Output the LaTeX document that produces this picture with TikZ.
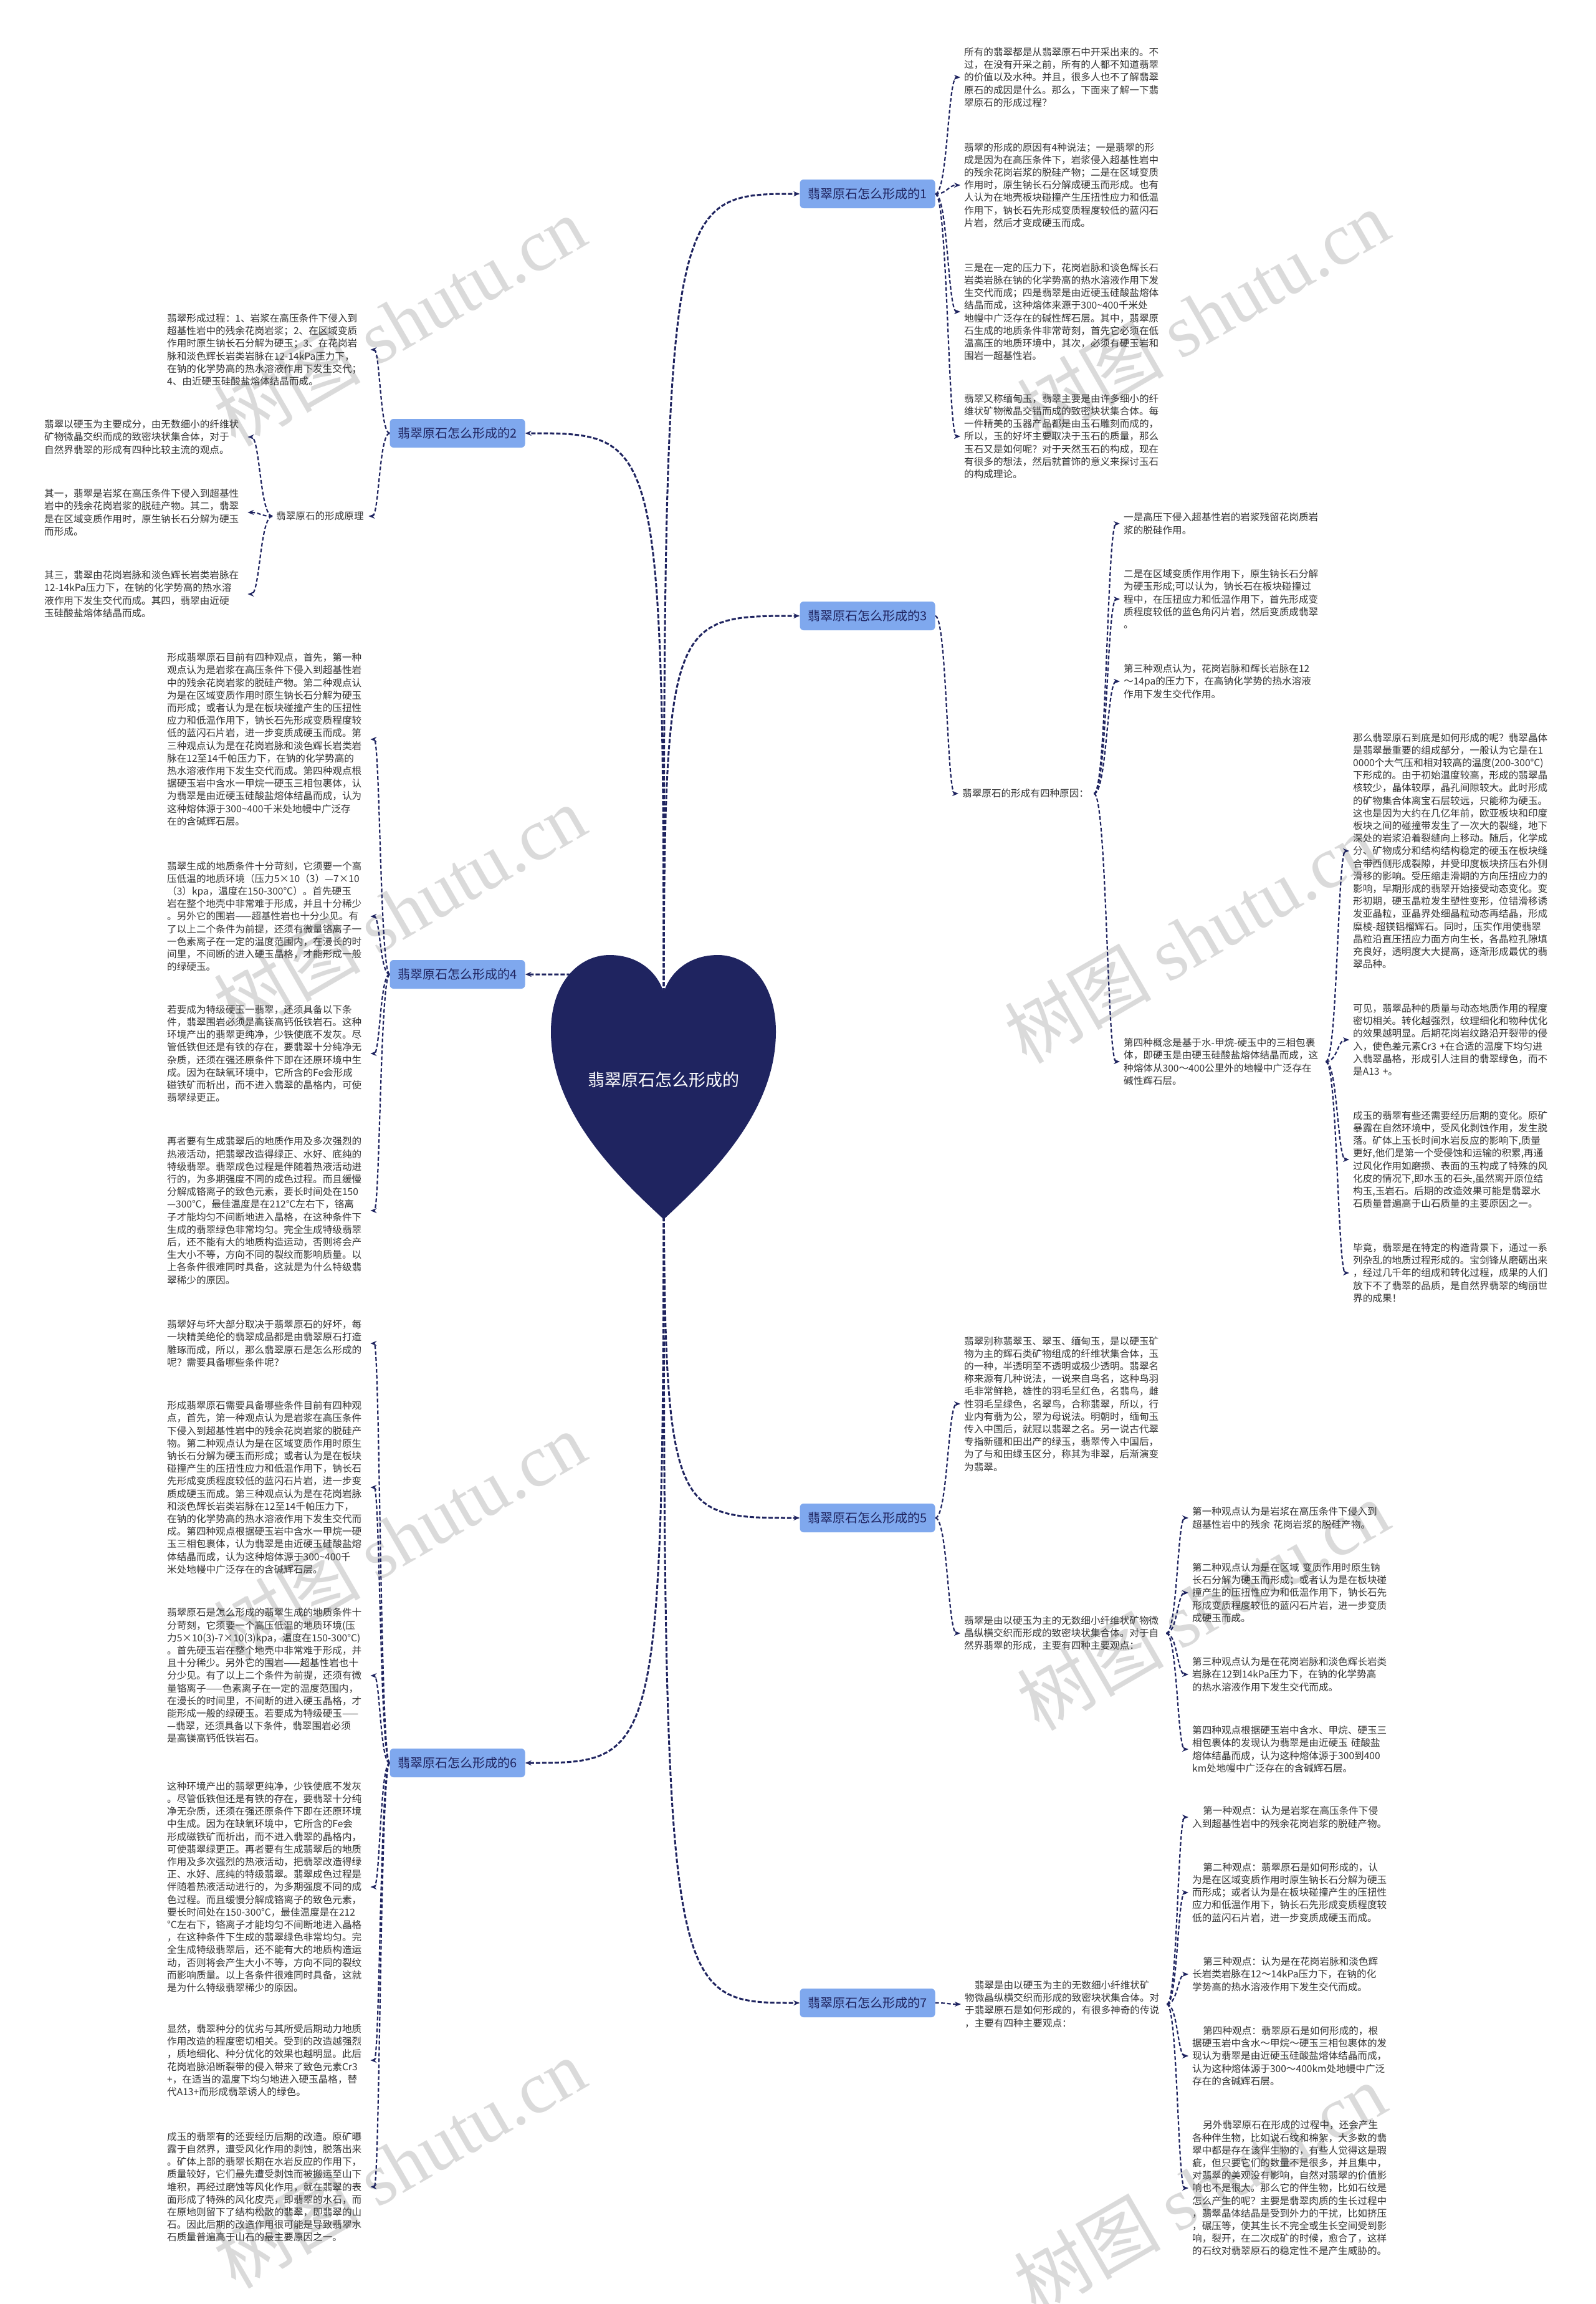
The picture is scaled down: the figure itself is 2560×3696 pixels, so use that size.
\documentclass[tikz,border=0pt]{standalone}
\usepackage{fontspec}
\setmainfont{Noto Sans CJK SC}
\newfontfamily\wmserif{Liberation Serif}
\usetikzlibrary{arrows.meta,calc}
\definecolor{navy}{HTML}{1F2460}
\definecolor{labfill}{HTML}{7FA8EE}
\definecolor{txtc}{HTML}{333333}
\definecolor{wmc}{HTML}{BDBDBD}
\pgfdeclarelayer{bgl}\pgfdeclarelayer{wm}\pgfdeclarelayer{lines}\pgfdeclarelayer{heartl}
\pgfsetlayers{bgl,wm,lines,heartl,main}
\begin{document}
\begin{tikzpicture}[x=1pt,y=-1pt,
  txt/.style={anchor=west,align=left,text width=#1,inner xsep=6pt,inner ysep=2pt,text=txtc,font=\fontsize{15.6}{20.2}\selectfont},
  txt/.default=320pt,
  lab/.style={fill=labfill,rounded corners=6pt,minimum width=217pt,minimum height=46pt,inner sep=4pt,text=navy,font=\fontsize{20}{24}\selectfont},
  conn/.style={draw=navy,line width=2.2pt,dash pattern=on 6pt off 3.5pt,-{Stealth[length=10pt,width=8pt]}},
  rootconn/.style={conn,line width=3pt,dash pattern=on 7pt off 3pt},
  scurve/.style={to path={let \p1=(\tikztostart),\p2=(\tikztotarget) in .. controls ({(\x1+\x2)/2},\y1) and ({(\x1+\x2)/2},\y2) .. (\tikztotarget) \tikztonodes}},
  rcurve/.style={to path={let \p1=(\tikztostart),\p2=(\tikztotarget) in .. controls (\x1,\y2) .. (\tikztotarget) \tikztonodes}},
  wmark/.style={rotate=30,text=wmc,opacity=0.55,font=\fontsize{118}{120}\selectfont,inner sep=0pt}
]
\useasboundingbox (0,0) rectangle (2560,3696);
\begin{pgfonlayer}{bgl}
\fill[white] (0,0) rectangle (2560,3696);
\end{pgfonlayer}

% watermarks
\begin{pgfonlayer}{wm}
\node[wmark] (w1) at (641,515) {树图 {\wmserif shutu.cn}};
\node[wmark] (w2) at (1930,505) {树图 {\wmserif shutu.cn}};
\node[wmark] (w3) at (641,1460) {树图 {\wmserif shutu.cn}};
\node[wmark] (w4) at (1910,1505) {树图 {\wmserif shutu.cn}};
\node[wmark] (w5) at (641,2465) {树图 {\wmserif shutu.cn}};
\node[wmark] (w6) at (1930,2575) {树图 {\wmserif shutu.cn}};
\node[wmark] (w7) at (641,3470) {树图 {\wmserif shutu.cn}};
\node[wmark] (w8) at (1925,3510) {树图 {\wmserif shutu.cn}};
\end{pgfonlayer}

% heart
\begin{pgfonlayer}{heartl}
\fill[navy] (1065,1956) .. controls (1000,1895) and (884,1790) .. (884,1655)
  .. controls (884,1575) and (930,1532) .. (978,1532)
  .. controls (1025,1532) and (1055,1560) .. (1065,1592)
  .. controls (1075,1560) and (1105,1532) .. (1152,1532)
  .. controls (1200,1532) and (1245,1575) .. (1245,1655)
  .. controls (1245,1790) and (1130,1895) .. (1065,1956) -- cycle;
\end{pgfonlayer}
\node[text=white,font=\fontsize{27}{30}\selectfont] (root) at (1065,1732) {翡翠原石怎么形成的};

% labels
\node[lab] (l1) at (1392,311) {翡翠原石怎么形成的1};
\node[lab] (l2) at (734,695) {翡翠原石怎么形成的2};
\node[lab] (l3) at (1392,988) {翡翠原石怎么形成的3};
\node[lab] (l4) at (734,1563) {翡翠原石怎么形成的4};
\node[lab] (l5) at (1392,2435) {翡翠原石怎么形成的5};
\node[lab] (l6) at (734,2828) {翡翠原石怎么形成的6};
\node[lab] (l7) at (1392,3213) {翡翠原石怎么形成的7};

% branch 1
\node[txt] (c1a) at (1541,124) {所有的翡翠都是从翡翠原石中开采出来的。不\\过，在没有开采之前，所有的人都不知道翡翠\\的价值以及水种。并且，很多人也不了解翡翠\\原石的成因是什么。那么，下面来了解一下翡\\翠原石的形成过程？};
\node[txt] (c1b) at (1541,297) {翡翠的形成的原因有4种说法；一是翡翠的形\\成是因为在高压条件下，岩浆侵入超基性岩中\\的残余花岗岩浆的脱硅产物；二是在区域变质\\作用时，原生钠长石分解成硬玉而形成。也有\\人认为在地壳板块碰撞产生压扭性应力和低温\\作用下，钠长石先形成变质程度较低的蓝闪石\\片岩，然后才变成硬玉而成。};
\node[txt] (c1c) at (1541,500) {三是在一定的压力下，花岗岩脉和谈色辉长石\\岩类岩脉在钠的化学势高的热水溶液作用下发\\生交代而成；四是翡翠是由近硬玉硅酸盐熔体\\结晶而成，这种熔体来源于300\textasciitilde400千米处\\地幔中广泛存在的碱性辉石层。其中，翡翠原\\石生成的地质条件非常苛刻，首先它必须在低\\温高压的地质环境中，其次，必须有硬玉岩和\\围岩一超基性岩。};
\node[txt] (c1d) at (1541,700) {翡翠又称缅甸玉，翡翠主要是由许多细小的纤\\维状矿物微晶交错而成的致密块状集合体。每\\一件精美的玉器产品都是由玉石雕刻而成的，\\所以，玉的好坏主要取决于玉石的质量，那么\\玉石又是如何呢？对于天然玉石的构成，现在\\有很多的想法，然后就首饰的意义来探讨玉石\\的构成理论。};

% branch 2
\node[txt] (c2a) at (262,561) {翡翠形成过程：1、岩浆在高压条件下侵入到\\超基性岩中的残余花岗岩浆；2、在区域变质\\作用时原生钠长石分解为硬玉；3、在花岗岩\\脉和淡色辉长岩类岩脉在12-14kPa压力下，\\在钠的化学势高的热水溶液作用下发生交代；\\4、由近硬玉硅酸盐熔体结晶而成。};
\node[txt=142pt] (c2b) at (437,828) {翡翠原石的形成原理};
\node[txt] (c2b1) at (65,701) {翡翠以硬玉为主要成分，由无数细小的纤维状\\矿物微晶交织而成的致密块状集合体，对于\\自然界翡翠的形成有四种比较主流的观点。};
\node[txt] (c2b2) at (65,822) {其一，翡翠是岩浆在高压条件下侵入到超基性\\岩中的残余花岗岩浆的脱硅产物。其二，翡翠\\是在区域变质作用时，原生钠长石分解为硬玉\\而形成。};
\node[txt] (c2b3) at (65,953) {其三，翡翠由花岗岩脉和淡色辉长岩类岩脉在\\12-14kPa压力下，在钠的化学势高的热水溶\\液作用下发生交代而成。其四，翡翠由近硬\\玉硅酸盐熔体结晶而成。};

% branch 3
\node[txt=205pt] (c3i) at (1538,1273) {翡翠原石的形成有四种原因：};
\node[txt=318pt] (c3a) at (1797,840) {一是高压下侵入超基性岩的岩浆残留花岗质岩\\浆的脱硅作用。};
\node[txt=318pt] (c3b) at (1797,961) {二是在区域变质作用作用下，原生钠长石分解\\为硬玉形成;可以认为，钠长石在板块碰撞过\\程中，在压扭应力和低温作用下，首先形成变\\质程度较低的蓝色角闪片岩，然后变质成翡翠\\。};
\node[txt=318pt] (c3c) at (1797,1093) {第三种观点认为，花岗岩脉和辉长岩脉在12\\～14pa的压力下，在高钠化学势的热水溶液\\作用下发生交代作用。};
\node[txt=318pt] (c3d) at (1797,1703) {第四种概念是基于水-甲烷-硬玉中的三相包裹\\体，即硬玉是由硬玉硅酸盐熔体结晶而成，这\\种熔体从300～400公里外的地幔中广泛存在\\碱性辉石层。};
\node[txt=330pt] (c3e) at (2165,1365) {那么翡翠原石到底是如何形成的呢？翡翠晶体\\是翡翠最重要的组成部分，一般认为它是在1\\0000个大气压和相对较高的温度(200-300°C)\\下形成的。由于初始温度较高，形成的翡翠晶\\核较少，晶体较厚，晶孔间隙较大。此时形成\\的矿物集合体离宝石层较远，只能称为硬玉。\\这也是因为大约在几亿年前，欧亚板块和印度\\板块之间的碰撞带发生了一次大的裂缝，地下\\深处的岩浆沿着裂缝向上移动。随后，化学成\\分、矿物成分和结构结构稳定的硬玉在板块缝\\合带西侧形成裂隙，并受印度板块挤压右外侧\\滑移的影响。受压缩走滑期的方向压扭应力的\\影响，早期形成的翡翠开始接受动态变化。变\\形初期，硬玉晶粒发生塑性变形，位错滑移诱\\发亚晶粒，亚晶界处细晶粒动态再结晶，形成\\糜棱-超镁铝榴辉石。同时，压实作用使翡翠\\晶粒沿直压扭应力面方向生长，各晶粒孔隙填\\充良好，透明度大大提高，逐渐形成最优的翡\\翠品种。};
\node[txt=330pt] (c3f) at (2165,1668) {可见，翡翠品种的质量与动态地质作用的程度\\密切相关。转化越强烈，纹理细化和物种优化\\的效果越明显。后期花岗岩纹路沿开裂带的侵\\入，使色差元素Cr3\ +在合适的温度下均匀进\\入翡翠晶格，形成引人注目的翡翠绿色，而不\\是A13\ +。};
\node[txt=330pt] (c3g) at (2165,1860) {成玉的翡翠有些还需要经历后期的变化。原矿\\暴露在自然环境中，受风化剥蚀作用，发生脱\\落。矿体上玉长时间水岩反应的影响下,质量\\更好,他们是第一个受侵蚀和运输的积累,再通\\过风化作用如磨损、表面的玉构成了特殊的风\\化皮的情况下,即水玉的石头,虽然离开原位结\\构玉,玉岩石。后期的改造效果可能是翡翠水\\石质量普遍高于山石质量的主要原因之一。};
\node[txt=330pt] (c3h) at (2165,2042) {毕竟，翡翠是在特定的构造背景下，通过一系\\列杂乱的地质过程形成的。宝剑锋从磨砺出来\\，经过几千年的组成和转化过程，成果的人们\\放下不了翡翠的品质，是自然界翡翠的绚丽世\\界的成果！};

% branch 4
\node[txt] (b4a) at (262,1186) {形成翡翠原石目前有四种观点，首先，第一种\\观点认为是岩浆在高压条件下侵入到超基性岩\\中的残余花岗岩浆的脱硅产物。第二种观点认\\为是在区域变质作用时原生钠长石分解为硬玉\\而形成；或者认为是在板块碰撞产生的压扭性\\应力和低温作用下，钠长石先形成变质程度较\\低的蓝闪石片岩，进一步变质成硬玉而成。第\\三种观点认为是在花岗岩脉和淡色辉长岩类岩\\脉在12至14千帕压力下，在钠的化学势高的\\热水溶液作用下发生交代而成。第四种观点根\\据硬玉岩中含水一甲烷一硬玉三相包裹体，认\\为翡翠是由近硬玉硅酸盐熔体结晶而成，认为\\这种熔体源于300\textasciitilde400千米处地幔中广泛存\\在的含碱辉石层。};
\node[txt] (b4b) at (262,1470) {翡翠生成的地质条件十分苛刻，它须要一个高\\压低温的地质环境（压力5×10（3）—7×10\\（3）kpa，温度在150-300℃）。首先硬玉\\岩在整个地壳中非常难于形成，并且十分稀少\\。另外它的围岩——超基性岩也十分少见。有\\了以上二个条件为前提，还须有微量铬离子一\\一色素离子在一定的温度范围内，在漫长的时\\间里，不间断的进入硬玉晶格，才能形成一般\\的绿硬玉。};
\node[txt] (b4c) at (262,1690) {若要成为特级硬玉一翡翠，还须具备以下条\\件，翡翠围岩必须是高镁高钙低铁岩石。这种\\环境产出的翡翠更纯净，少铁使底不发灰。尽\\管低铁但还是有铁的存在，要翡翠十分纯净无\\杂质，还须在强还原条件下即在还原环境中生\\成。因为在缺氧环境中，它所含的Fe会形成\\磁铁矿而析出，而不进入翡翠的晶格内，可使\\翡翠绿更正。};
\node[txt] (b4d) at (262,1942) {再者要有生成翡翠后的地质作用及多次强烈的\\热液活动，把翡翠改造得绿正、水好、底纯的\\特级翡翠。翡翠成色过程是伴随着热液活动进\\行的，为多期强度不同的成色过程。而且缓慢\\分解成铬离子的致色元素，要长时间处在150\\—300℃，最佳温度是在212℃左右下，铬离\\子才能均匀不间断地进入晶格，在这种条件下\\生成的翡翠绿色非常均匀。完全生成特级翡翠\\后，还不能有大的地质构造运动，否则将会产\\生大小不等，方向不同的裂纹而影响质量。以\\上各条件很难同时具备，这就是为什么特级翡\\翠稀少的原因。};

% branch 5
\node[txt=318pt] (b5a) at (1541,2252) {翡翠别称翡翠玉、翠玉、缅甸玉，是以硬玉矿\\物为主的辉石类矿物组成的纤维状集合体，玉\\的一种，半透明至不透明或极少透明。翡翠名\\称来源有几种说法，一说来自鸟名，这种鸟羽\\毛非常鲜艳，雄性的羽毛呈红色，名翡鸟，雌\\性羽毛呈绿色，名翠鸟，合称翡翠，所以，行\\业内有翡为公，翠为母说法。明朝时，缅甸玉\\传入中国后，就冠以翡翠之名。另一说古代翠\\专指新疆和田出产的绿玉，翡翠传入中国后，\\为了与和田绿玉区分，称其为非翠，后渐演变\\为翡翠。};
\node[txt=318pt] (b5b) at (1541,2620) {翡翠是由以硬玉为主的无数细小纤维状矿物微\\晶纵横交织而形成的致密块状集合体。对于自\\然界翡翠的形成，主要有四种主要观点：};
\node[txt=330pt] (b5c) at (1907,2435) {第一种观点认为是岩浆在高压条件下侵入到\\超基性岩中的残余 花岗岩浆的脱硅产物。};
\node[txt=330pt] (b5d) at (1907,2555) {第二种观点认为是在区域 变质作用时原生钠\\长石分解为硬玉而形成；或者认为是在板块碰\\撞产生的压扭性应力和低温作用下，钠长石先\\形成变质程度较低的蓝闪石片岩，进一步变质\\成硬玉而成。};
\node[txt=330pt] (b5e) at (1907,2686) {第三种观点认为是在花岗岩脉和淡色辉长岩类\\岩脉在12到14kPa压力下，在钠的化学势高\\的热水溶液作用下发生交代而成。};
\node[txt=330pt] (b5f) at (1907,2806) {第四种观点根据硬玉岩中含水、甲烷、硬玉三\\相包裹体的发现认为翡翠是由近硬玉 硅酸盐\\熔体结晶而成，认为这种熔体源于300到400\\km处地幔中广泛存在的含碱辉石层。};

% branch 6
\node[txt] (b6a) at (262,2155) {翡翠好与坏大部分取决于翡翠原石的好坏，每\\一块精美绝伦的翡翠成品都是由翡翠原石打造\\雕琢而成，所以，那么翡翠原石是怎么形成的\\呢？需要具备哪些条件呢？};
\node[txt] (b6b) at (262,2386) {形成翡翠原石需要具备哪些条件目前有四种观\\点，首先，第一种观点认为是岩浆在高压条件\\下侵入到超基性岩中的残余花岗岩浆的脱硅产\\物。第二种观点认为是在区域变质作用时原生\\钠长石分解为硬玉而形成；或者认为是在板块\\碰撞产生的压扭性应力和低温作用下，钠长石\\先形成变质程度较低的蓝闪石片岩，进一步变\\质成硬玉而成。第三种观点认为是在花岗岩脉\\和淡色辉长岩类岩脉在12至14千帕压力下，\\在钠的化学势高的热水溶液作用下发生交代而\\成。第四种观点根据硬玉岩中含水一甲烷一硬\\玉三相包裹体，认为翡翠是由近硬玉硅酸盐熔\\体结晶而成，认为这种熔体源于300\textasciitilde400千\\米处地幔中广泛存在的含碱辉石层。};
\node[txt] (b6c) at (262,2688) {翡翠原石是怎么形成的翡翠生成的地质条件十\\分苛刻，它须要一个高压低温的地质环境(压\\力5×10(3)-7×10(3)kpa，温度在150-300°C)\\。首先硬玉岩在整个地壳中非常难于形成，并\\且十分稀少。另外它的围岩——超基性岩也十\\分少见。有了以上二个条件为前提，还须有微\\量铬离子——色素离子在一定的温度范围内，\\在漫长的时间里，不间断的进入硬玉晶格，才\\能形成一般的绿硬玉。若要成为特级硬玉——\\—翡翠，还须具备以下条件，翡翠围岩必须\\是高镁高钙低铁岩石。};
\node[txt] (b6d) at (262,3027) {这种环境产出的翡翠更纯净，少铁使底不发灰\\。尽管低铁但还是有铁的存在，要翡翠十分纯\\净无杂质，还须在强还原条件下即在还原环境\\中生成。因为在缺氧环境中，它所含的Fe会\\形成磁铁矿而析出，而不进入翡翠的晶格内，\\可使翡翠绿更正。再者要有生成翡翠后的地质\\作用及多次强烈的热液活动，把翡翠改造得绿\\正、水好、底纯的特级翡翠。翡翠成色过程是\\伴随着热液活动进行的，为多期强度不同的成\\色过程。而且缓慢分解成铬离子的致色元素，\\要长时间处在150-300°C，最佳温度是在212\\°C左右下，铬离子才能均匀不间断地进入晶格\\，在这种条件下生成的翡翠绿色非常均匀。完\\全生成特级翡翠后，还不能有大的地质构造运\\动，否则将会产生大小不等，方向不同的裂纹\\而影响质量。以上各条件很难同时具备，这就\\是为什么特级翡翠稀少的原因。};
\node[txt] (b6e) at (262,3305) {显然，翡翠种分的优劣与其所受后期动力地质\\作用改造的程度密切相关。受到的改造越强烈\\，质地细化、种分优化的效果也越明显。此后\\花岗岩脉沿断裂带的侵入带来了致色元素Cr3\\+，在适当的温度下均匀地进入硬玉晶格，替\\代A13+而形成翡翠诱人的绿色。};
\node[txt] (b6f) at (262,3508) {成玉的翡翠有的还要经历后期的改造。原矿曝\\露于自然界，遭受风化作用的剥蚀，脱落出来\\。矿体上部的翡翠长期在水岩反应的作用下，\\质量较好，它们最先遭受剥蚀而被搬运至山下\\堆积，再经过磨蚀等风化作用，就在翡翠的表\\面形成了特殊的风化皮壳，即翡翠的水石，而\\在原地则留下了结构松散的翡翠，即翡翠的山\\石。因此后期的改造作用很可能是导致翡翠水\\石质量普遍高于山石的最主要原因之一。};

% branch 7
\node[txt=318pt] (b7a) at (1542,3215) {\hspace*{1em}翡翠是由以硬玉为主的无数细小纤维状矿\\物微晶纵横交织而形成的致密块状集合体。对\\于翡翠原石是如何形成的，有很多神奇的传说\\，主要有四种主要观点：};
\node[txt=330pt] (b7b) at (1907,2915) {\hspace*{1.1em}第一种观点：认为是岩浆在高压条件下侵\\入到超基性岩中的残余花岗岩浆的脱硅产物。};
\node[txt=330pt] (b7c) at (1907,3036) {\hspace*{1.1em}第二种观点：翡翠原石是如何形成的，认\\为是在区域变质作用时原生钠长石分解为硬玉\\而形成；或者认为是在板块碰撞产生的压扭性\\应力和低温作用下，钠长石先形成变质程度较\\低的蓝闪石片岩，进一步变质成硬玉而成。};
\node[txt=330pt] (b7d) at (1907,3167) {\hspace*{1.1em}第三种观点：认为是在花岗岩脉和淡色辉\\长岩类岩脉在12～14kPa压力下，在钠的化\\学势高的热水溶液作用下发生交代而成。};
\node[txt=330pt] (b7e) at (1907,3298) {\hspace*{1.1em}第四种观点：翡翠原石是如何形成的，根\\据硬玉岩中含水～甲烷～硬玉三相包裹体的发\\现认为翡翠是由近硬玉硅酸盐熔体结晶而成，\\认为这种熔体源于300～400km处地幔中广泛\\存在的含碱辉石层。};
\node[txt=330pt] (b7f) at (1907,3510) {\hspace*{1.1em}另外翡翠原石在形成的过程中，还会产生\\各种伴生物，比如说石纹和棉絮，大多数的翡\\翠中都是存在该伴生物的，有些人觉得这是瑕\\疵，但只要它们的数量不是很多，并且集中，\\对翡翠的美观没有影响，自然对翡翠的价值影\\响也不是很大。那么它的伴生物，比如石纹是\\怎么产生的呢？主要是翡翠肉质的生长过程中\\，翡翠晶体结晶是受到外力的干扰，比如挤压\\，碾压等，使其生长不完全或生长空间受到影\\响，裂开，在二次成矿的时候，愈合了，这样\\的石纹对翡翠原石的稳定性不是产生威胁的。};

% connectors
\begin{pgfonlayer}{lines}
\foreach \t in {l1,l3,l5,l7} \draw[rootconn] (root.center) to[rcurve] (\t.west);
\foreach \t in {l2,l4,l6} \draw[rootconn] (root.center) to[rcurve] (\t.east);
\foreach \t in {c1a,c1b,c1c,c1d} \draw[conn] (l1.east) to[scurve] (\t.west);
\foreach \t in {c2a,c2b} \draw[conn] (l2.west) to[scurve] (\t.east);
\foreach \t in {c2b1,c2b2,c2b3} \draw[conn] (c2b.west) to[scurve] (\t.east);
\draw[conn] (l3.east) to[scurve] (c3i.west);
\foreach \t in {c3a,c3b,c3c,c3d} \draw[conn] (c3i.east) to[scurve] (\t.west);
\foreach \t in {c3e,c3f,c3g,c3h} \draw[conn] (c3d.east) to[scurve] (\t.west);
\foreach \t in {b4a,b4b,b4c,b4d} \draw[conn] (l4.west) to[scurve] (\t.east);
\foreach \t in {b5a,b5b} \draw[conn] (l5.east) to[scurve] (\t.west);
\foreach \t in {b5c,b5d,b5e,b5f} \draw[conn] (b5b.east) to[scurve] (\t.west);
\foreach \t in {b6a,b6b,b6c,b6d,b6e,b6f} \draw[conn] (l6.west) to[scurve] (\t.east);
\draw[conn] (l7.east) to[scurve] (b7a.west);
\foreach \t in {b7b,b7c,b7d,b7e,b7f} \draw[conn] (b7a.east) to[scurve] (\t.west);
\end{pgfonlayer}
\end{tikzpicture}
\end{document}
